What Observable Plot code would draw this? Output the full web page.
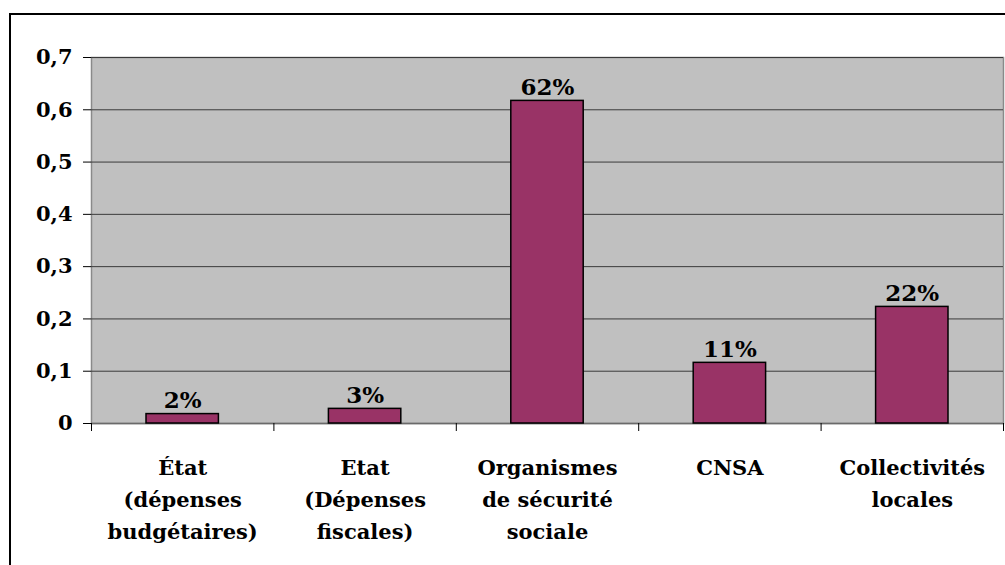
<!DOCTYPE html>
<html>
<head>
<meta charset="utf-8">
<script src="https://cdn.jsdelivr.net/npm/d3@7"></script>
<script src="https://cdn.jsdelivr.net/npm/@observablehq/plot@0.6"></script>
<style>
  html, body { margin: 0; padding: 0; background: #fff; overflow: hidden; }
  #wrap { position: relative; width: 1005px; height: 565px; }
  #border { position: absolute; left: 9px; top: 13px; width: 1010px; height: 570px; border: 2px solid #000; box-sizing: border-box; }
  #chart { position: absolute; left: 0; top: 0; }
  #chart svg text { font-family: "DejaVu Serif", serif; font-weight: bold; }
</style>
</head>
<body>
<div id="wrap"><div id="border"></div><div id="chart"></div></div>
<script>
const categories = ["État\n(dépenses\nbudgétaires)", "Etat\n(Dépenses\nfiscales)", "Organismes\nde sécurité\nsociale", "CNSA", "Collectivités\nlocales"];
const values = [0.018, 0.028, 0.617, 0.116, 0.223];
const valueLabels = ["2%", "3%", "62%", "11%", "22%"];
const yTicks = [0, 0.1, 0.2, 0.3, 0.4, 0.5, 0.6, 0.7];
const yTickLabels = ["0", "0,1", "0,2", "0,3", "0,4", "0,5", "0,6", "0,7"];

const data = categories.map((c, i) => ({cat: c, idx: i, value: values[i], label: valueLabels[i]}));
const font = "DejaVu Serif";
const fs = 21;

const chart = Plot.plot({
  width: 1005,
  height: 565,
  marginLeft: 91,
  marginRight: 2,
  marginTop: 57,
  marginBottom: 142,
  style: {fontFamily: font, fontWeight: "bold", fontSize: fs + "px", color: "#000", background: "transparent"},
  x: {type: "linear", domain: [0, categories.length]},
  y: {domain: [0, 0.7]},
  marks: [
    Plot.frame({fill: "#c0c0c0", stroke: "#8a8a8a", strokeWidth: 1.5}),
    Plot.gridY(yTicks, {stroke: "#3a3a3a", strokeOpacity: 1, strokeWidth: 1}),
    Plot.ruleY([0], {stroke: "#6a6a6a", strokeWidth: 1.5}),
    Plot.rectY(data, {x1: "idx", x2: d => d.idx + 1, y1: 0, y2: "value", insetLeft: 55, insetRight: 55, fill: "#993366", stroke: "#000", strokeWidth: 1.5}),
    Plot.text(data, {x: d => d.idx + 0.5, y: "value", text: "label", lineAnchor: "bottom", dy: -6, fontFamily: font, fontSize: 23, fontWeight: "bold", fill: "#000"}),
    Plot.axisY({ticks: yTicks, tickFormat: (d) => yTickLabels[yTicks.indexOf(d)], tickSize: 8, tickPadding: 11, fontFamily: font, fontSize: fs, fontWeight: "bold", stroke: "#000", label: null}),
    Plot.axisX({ticks: d3.range(categories.length + 1), tickFormat: () => "", tickSize: 8, stroke: "#000", label: null}),
    Plot.text(data, {x: d => d.idx + 0.5, y: 0, text: "cat", lineAnchor: "top", dy: 29, lineHeight: 1.52, fontFamily: font, fontSize: fs, fontWeight: "bold", fill: "#000"})
  ]
});
document.getElementById("chart").appendChild(chart);
</script>
</body>
</html>
